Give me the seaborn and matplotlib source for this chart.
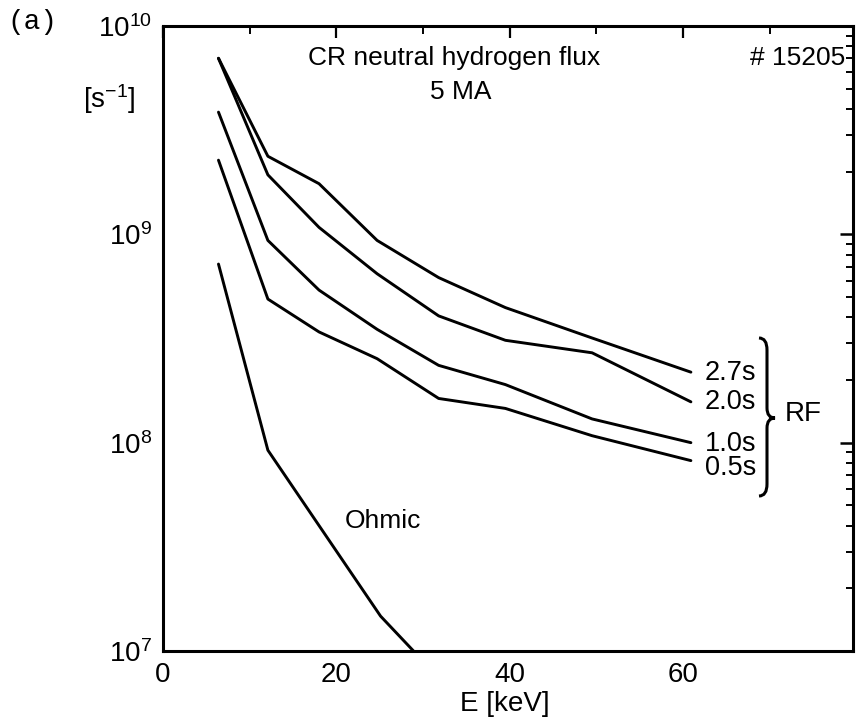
import numpy as np
import pandas as pd
import matplotlib
matplotlib.use("Agg")
import matplotlib.pyplot as plt
import seaborn as sns
from matplotlib.path import Path
from matplotlib.patches import PathPatch
from matplotlib.ticker import FixedLocator, LogLocator, NullFormatter

# ---------------- data ----------------
energy_rf = [6.4, 12.1, 18.0, 24.7, 31.8, 39.5, 49.5, 60.9]
flux_27 = [7.0e9, 2.37e9, 1.75e9, 9.35e8, 6.2e8, 4.45e8, 3.18e8, 2.18e8]
flux_20 = [7.0e9, 1.93e9, 1.08e9, 6.47e8, 4.06e8, 3.1e8, 2.7e8, 1.57e8]
flux_10 = [3.86e9, 9.35e8, 5.4e8, 3.5e8, 2.35e8, 1.9e8, 1.3e8, 1.0e8]
flux_05 = [2.27e9, 4.89e8, 3.4e8, 2.53e8, 1.63e8, 1.46e8, 1.08e8, 8.2e7]
energy_ohmic = [6.4, 12.1, 18.0, 25.1, 28.9]
flux_ohmic = [7.2e8, 9.2e7, 4.0e7, 1.47e7, 1.0e7]

series_names = ["2.7s", "2.0s", "1.0s", "0.5s"]
label_flux = [2.15e8, 1.57e8, 9.9e7, 7.55e7]
label_energy = 62.5

x_ticks = [0, 20, 40, 60]
x_minor = [10, 30, 50, 70]
y_ticks = [1e7, 1e8, 1e9, 1e10]
y_tick_labels = ["$10^{7}$", "$10^{8}$", "$10^{9}$", "$10^{10}$"]

# ---------------- long-form table ----------------
rows = []
for name, vals in zip(series_names, [flux_27, flux_20, flux_10, flux_05]):
    for e, f in zip(energy_rf, vals):
        rows.append((name, e, f))
for e, f in zip(energy_ohmic, flux_ohmic):
    rows.append(("Ohmic", e, f))
df = pd.DataFrame(rows, columns=["series", "E", "flux"])

# ---------------- style ----------------
sns.set_theme(style="white")
plt.rcParams["font.family"] = ["Liberation Sans", "DejaVu Sans"]
plt.rcParams["mathtext.default"] = "regular"
plt.rcParams["axes.linewidth"] = 2.2
plt.rcParams["text.color"] = "black"
plt.rcParams["axes.labelcolor"] = "black"
plt.rcParams["xtick.color"] = "black"
plt.rcParams["ytick.color"] = "black"

W, H = 861, 728
fig = plt.figure(figsize=(W / 100, H / 100), dpi=100)
L, R, T, B = 163, 853, 26, 651
ax = fig.add_axes([L / W, 1 - B / H, (R - L) / W, (B - T) / H])


def fx(px):
    return px / W


def fy(py):
    return 1 - py / H


sns.lineplot(data=df, x="E", y="flux", units="series", estimator=None,
             sort=False, color="black", lw=2.1, ax=ax, legend=False)

ax.set_yscale("log")
ax.set_xlim(0, 79.6)
ax.set_ylim(1e7, 1e10)
for s in ax.spines.values():
    s.set_visible(True)
    s.set_color("black")
    s.set_linewidth(2.2)

ax.xaxis.set_major_locator(FixedLocator(x_ticks))
ax.xaxis.set_minor_locator(FixedLocator(x_minor))
ax.set_xticklabels([str(v) for v in x_ticks])
ax.yaxis.set_major_locator(FixedLocator(y_ticks))
ax.set_yticklabels(y_tick_labels)
ax.yaxis.set_minor_locator(LogLocator(base=10, subs=np.arange(2, 10)))
ax.yaxis.set_minor_formatter(NullFormatter())

ax.tick_params(axis="both", which="both", direction="in", top=True, right=True,
               color="black", labelcolor="black", labelsize=20)
ax.tick_params(axis="x", which="major", length=8.5, width=1.6, pad=8)
ax.tick_params(axis="x", which="minor", length=5.5, width=1.4)
ax.tick_params(axis="y", which="major", length=9.5, width=1.8, pad=8)
ax.tick_params(axis="y", which="minor", length=5, width=1.4)
ax.set_xlabel("")
ax.set_ylabel("")

# series labels
for name, yv in zip(series_names, label_flux):
    ax.text(label_energy, yv, name, fontsize=19.5, ha="left", va="center",
            color="black")

# brace (axes-fraction geometry)
def to_ax(px, py):
    return ((px - L) / (R - L), (B - py) / (B - T))

bx = 767
pts = [(759, 338), (bx, 338), (bx, 350), (bx, 408), (bx, 418), (775, 418),
       (bx, 418), (bx, 428), (bx, 484), (bx, 496), (759, 496)]
codes = [Path.MOVETO, Path.CURVE3, Path.CURVE3, Path.LINETO, Path.CURVE3,
         Path.CURVE3, Path.CURVE3, Path.CURVE3, Path.LINETO, Path.CURVE3,
         Path.CURVE3]
brace = Path([to_ax(*p) for p in pts], codes)
ax.add_patch(PathPatch(brace, transform=ax.transAxes, fill=False,
                       lw=2.2, edgecolor="black", clip_on=False))
fig.text(fx(785), fy(414), "RF", fontsize=20, ha="left", va="center",
         color="black")

# annotations
fig.text(fx(308), fy(58), "CR neutral hydrogen flux", fontsize=19,
         ha="left", va="center", color="black")
fig.text(fx(461), fy(92), "5 MA", fontsize=19, ha="center", va="center",
         color="black")
fig.text(fx(845), fy(58), "# 15205", fontsize=19, ha="right", va="center",
         color="black")
fig.text(fx(345), fy(521), "Ohmic", fontsize=19, ha="left", va="center",
         color="black")
fig.text(fx(109), fy(99), "[s$^{-1}$]", fontsize=20, ha="center",
         va="center", color="black")
fig.text(fx(505), fy(704), "E [keV]", fontsize=20, ha="center", va="center",
         color="black")
fig.text(fx(32), fy(22), "(a)", fontsize=20, ha="center", va="center",
         family=["Liberation Mono", "DejaVu Sans Mono"], color="black")

fig.savefig("out.png", dpi=100, facecolor="white")
